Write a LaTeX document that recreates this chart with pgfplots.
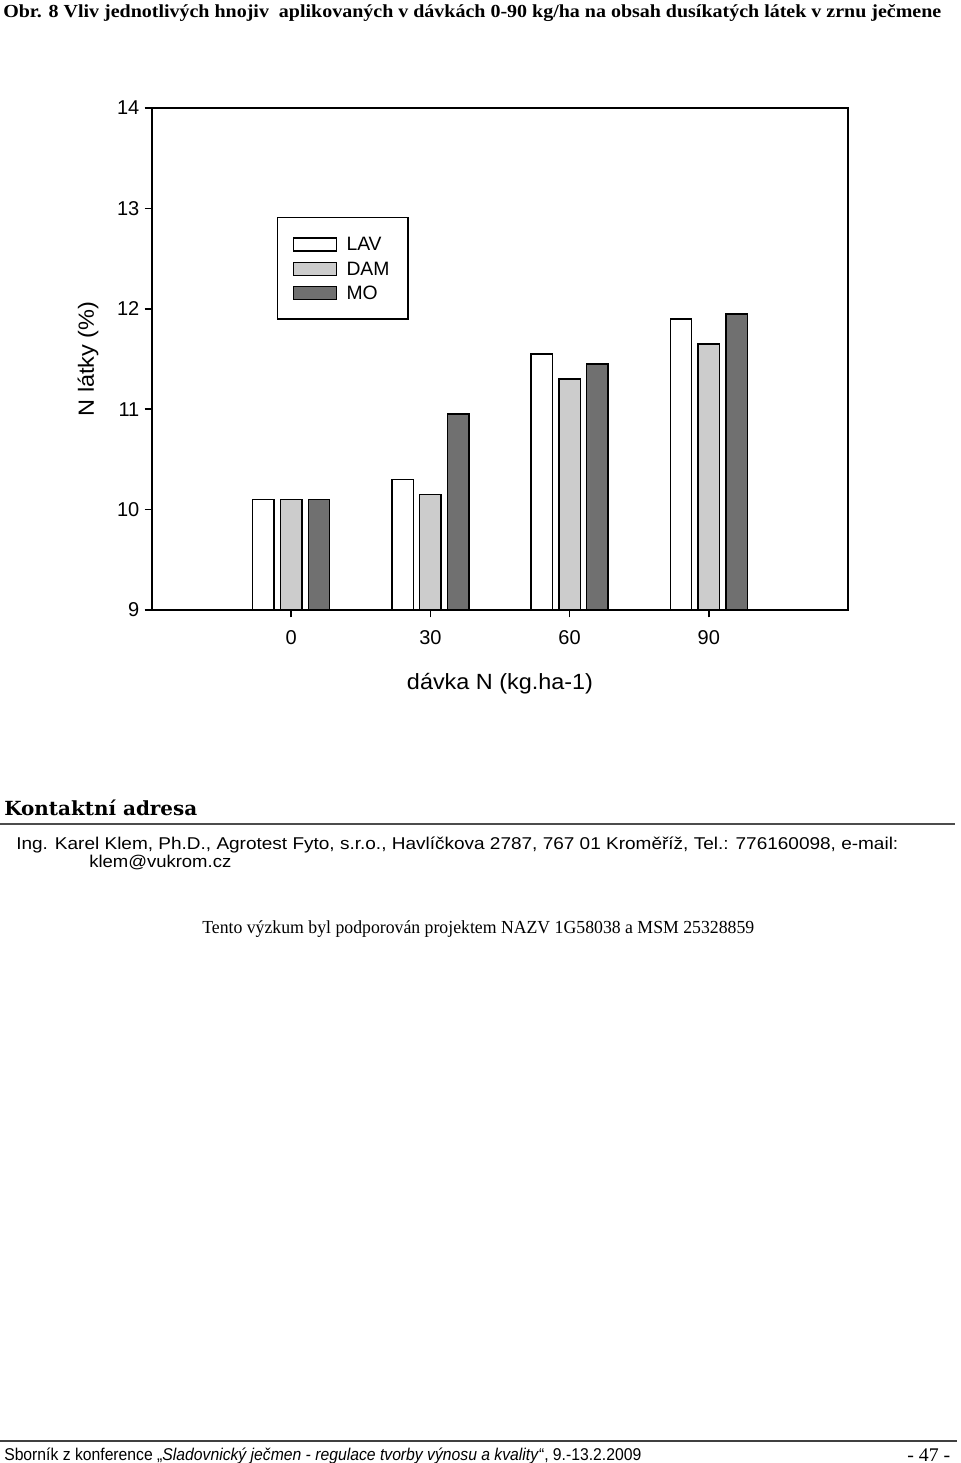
\documentclass[border=0pt]{standalone}
\usepackage{fontspec}
\setmainfont{Liberation Serif}
\newfontfamily\arial{Liberation Sans}
\newfontfamily\slab{DejaVu Serif}
\usepackage{graphicx}
\usepackage{pgfplots}
\pgfplotsset{compat=1.18}
\newlength\px \setlength\px{0.75pt}
\definecolor{damgray}{gray}{0.8}
\definecolor{mogray}{gray}{0.44}
\pgfplotsset{mylegend/.style={legend image code/.code={\draw[##1,line width=1.1pt] (0pt,-5.3pt) rectangle (32.25pt,4.45pt);}}}

\begin{document}
\begin{tikzpicture}[x=0.75pt,y=0.75pt]
\path[use as bounding box] (0,0) rectangle (960,1463);
\node[anchor=base west, inner sep=0pt] at (3,{1463-17.5}) {\resizebox{938\px}{\height}{\fontsize{13.8pt}{16pt}\selectfont\bfseries Obr. 8 Vliv jednotlivých hnojiv\ \ aplikovaných v dávkách 0-90 kg/ha na obsah dusíkatých látek v zrnu ječmene}};

\begin{axis}[at={(114pt,639.75pt)}, anchor=south west, scale only axis,
  width=522pt, height=376.5pt,
  xmin=-30, xmax=120, ymin=9, ymax=14,
  xtick={0,30,60,90}, ytick={9,10,11,12,13,14},
  ybar, bar width=16pt,
  tick pos=left, tick align=outside, major tick length=5.6pt,
  line width=1.1pt,
  every tick/.style={black, line width=1.1pt},
  tick label style={font=\arial\fontsize{15pt}{17pt}\selectfont},
  xticklabel style={yshift=-6pt},
  /pgf/number format/assume math mode=true,
  xlabel={\resizebox{186\px}{\height}{dávka N (kg.ha-1)}},
  xlabel style={font=\arial\fontsize{16.5pt}{19pt}\selectfont, at={(axis description cs:0.5,0)}, anchor=base, yshift=-60pt},
  ylabel={\resizebox{115\px}{\height}{N látky (\%)}},
  ylabel style={font=\arial\fontsize{16.5pt}{19pt}\selectfont, at={(axis description cs:0,0.5)}, anchor=center, yshift=48pt},
  legend style={at={(0.1796,0.783)}, anchor=north west, draw=black, line width=1.1pt,
    inner xsep=11.25pt, inner ysep=10.75pt, row sep=0pt, column sep=7pt,
    font=\arial\fontsize{14.5pt}{17pt}\selectfont, cells={anchor=west},
    nodes={inner sep=0pt, text height=14.1pt, text depth=4.1pt}},
]
\addplot[fill=white, draw=black, bar shift=-20.85pt, mylegend] coordinates {(0,10.1) (30,10.3) (60,11.55) (90,11.9)};
\addplot[fill=damgray, draw=black, bar shift=0pt, mylegend] coordinates {(0,10.1) (30,10.15) (60,11.3) (90,11.65)};
\addplot[fill=mogray, draw=black, bar shift=20.85pt, mylegend] coordinates {(0,10.1) (30,10.95) (60,11.45) (90,11.95)};
\legend{\makebox[35pt][l]{LAV},\makebox[35pt][l]{DAM},\makebox[35pt][l]{MO}}
\end{axis}

\node[anchor=base west, inner sep=0pt] at (4,{1463-816}) {\resizebox{193\px}{\height}{\slab\bfseries\fontsize{14.6pt}{17pt}\selectfont Kontaktní adresa}};
\draw[line width=1.5pt, black!70] (0,{1463-824}) -- (955,{1463-824});
\node[anchor=base west, inner sep=0pt] at (16,{1463-850}) {\resizebox{882\px}{\height}{\arial\fontsize{12.8pt}{15pt}\selectfont Ing. Karel Klem, Ph.D., Agrotest Fyto, s.r.o., Havlíčkova 2787, 767 01 Kroměříž, Tel.: 776160098, e-mail:}};
\node[anchor=base west, inner sep=0pt] at (89,{1463-868}) {\resizebox{142\px}{\height}{\arial\fontsize{12.8pt}{15pt}\selectfont klem@vukrom.cz}};
\node[anchor=base west, inner sep=0pt] at (202,{1463-934}) {\resizebox{552\px}{\height}{\fontsize{13.8pt}{16pt}\selectfont Tento výzkum byl podporován projektem NAZV 1G58038 a MSM 25328859}};
\draw[line width=0.8pt, black!75] (0,{1463-1441}) -- (957,{1463-1441});
\node[anchor=base west, inner sep=0pt] at (4,{1463-1460}) {\resizebox{637\px}{\height}{\arial\fontsize{12.8pt}{15pt}\selectfont Sborník z konference „\textit{Sladovnický ječmen - regulace tvorby výnosu a kvality}“, 9.-13.2.2009}};
\node[anchor=base west, inner sep=0pt] at (907,{1463-1461}) {\resizebox{43\px}{\height}{\fontsize{14.5pt}{16pt}\selectfont - 47 -}};
\end{tikzpicture}
\end{document}
